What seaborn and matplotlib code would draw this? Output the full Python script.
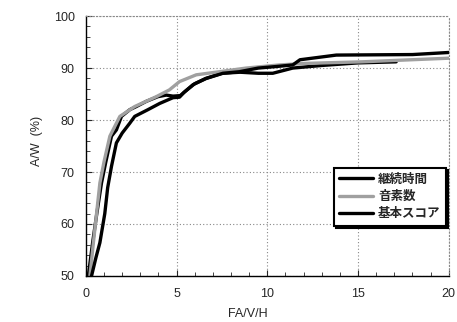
import numpy as np
import pandas as pd
import matplotlib
matplotlib.use('Agg')
import matplotlib.pyplot as plt
from matplotlib.ticker import MultipleLocator
import seaborn as sns

sns.set_style('white')
plt.rcParams['font.family'] = ['Liberation Sans', 'Noto Sans CJK JP', 'DejaVu Sans']

# Series (x = FA/V/H, y = A/W %)
series_names = ['継続時間', '音素数', '基本スコア']

x_keizoku = [0.13, 0.37, 0.6, 0.86, 1.1, 1.41, 1.68, 1.96, 2.42, 2.78, 3.33, 3.97, 4.43,
             4.8, 5.2, 5.5, 6.0, 6.6, 7.5, 8.5, 9.5, 10.3, 11.4, 13.0, 15.0, 17.1]
y_keizoku = [50, 56.4, 62, 67.9, 72, 76.9, 78.1, 80.7, 82.0, 82.6, 83.6, 84.5, 84.8,
             84.6, 84.7, 85.6, 87.0, 88.0, 89.0, 89.2, 89.0, 89.0, 90.0, 90.5, 91.0, 91.2]

x_onso = [0.22, 0.4, 0.77, 1.0, 1.32, 1.87, 2.69, 3.88, 4.6, 5.16, 6.08, 7.36, 8.83,
          10.66, 12.1, 15.2, 20.0]
y_onso = [50, 56, 67.9, 72, 76.9, 80.7, 82.6, 84.5, 85.8, 87.4, 88.7, 89.3, 90.0,
          90.6, 90.9, 91.2, 91.9]

x_kihon = [0.31, 0.55, 0.77, 1.04, 1.2, 1.41, 1.68, 2.0, 2.42, 2.69, 3.42, 4.07, 4.8,
           5.16, 5.4, 5.9, 6.63, 7.55, 8.46, 9.5, 10.5, 11.4, 11.8, 13.8, 18.0, 20.0]
y_kihon = [50, 53.5, 56.4, 62, 67, 71.1, 75.6, 77.5, 79.4, 80.7, 82.0, 83.2, 84.3,
           84.4, 85.3, 86.8, 88.0, 89.0, 89.3, 90.0, 90.3, 90.6, 91.6, 92.5, 92.6, 93.0]

fig = plt.figure(figsize=(4.57, 3.22), dpi=100)
ax = fig.add_axes([0.188, 0.143, 0.794, 0.807])

styles = {'継続時間': dict(color='black', lw=2.4),
          '音素数': dict(color='#a0a0a0', lw=2.4),
          '基本スコア': dict(color='black', lw=2.4)}

for name, xs, ys in zip(series_names, [x_keizoku, x_onso, x_kihon], [y_keizoku, y_onso, y_kihon]):
    sns.lineplot(x=xs, y=ys, ax=ax, sort=False, estimator=None, label=name, **styles[name])

ax.set_xlim(0, 20)
ax.set_ylim(50, 100)
ax.xaxis.set_major_locator(MultipleLocator(5))
ax.xaxis.set_minor_locator(MultipleLocator(1))
ax.yaxis.set_major_locator(MultipleLocator(10))
ax.yaxis.set_minor_locator(MultipleLocator(2))
ax.grid(True, which='major', color='#888888', linestyle=(0, (1, 2)), linewidth=0.8)
ax.tick_params(which='both', direction='in', left=True, bottom=True, labelsize=9)
ax.tick_params(which='major', length=4)
ax.tick_params(which='minor', length=3)
ax.tick_params(axis='x', pad=9)
ax.tick_params(axis='y', pad=8)

for side in ['top', 'right']:
    ax.spines[side].set_color('#888888')
    ax.spines[side].set_linestyle((0, (1, 2)))
    ax.spines[side].set_linewidth(0.8)
for side in ['left', 'bottom']:
    ax.spines[side].set_color('black')
    ax.spines[side].set_linewidth(1.0)

ax.set_xlabel('FA/V/H', fontsize=9)
ax.set_ylabel('A/W  (%)', fontsize=9)
ax.xaxis.set_label_coords(0.445, -0.125)
ax.yaxis.set_label_coords(-0.118, 0.52)

leg = ax.legend(loc='lower right', bbox_to_anchor=(1.01, 0.17), fontsize=9,
                frameon=True, fancybox=False, handlelength=2.7,
                borderpad=0.45, labelspacing=0.4, handletextpad=0.4,
                shadow={'color': 'black', 'alpha': 1, 'ox': 1.5, 'oy': -1.5})
leg.get_frame().set_edgecolor('black')
leg.get_frame().set_linewidth(1.5)
for t in leg.get_texts():
    t.set_fontweight('bold')

fig.savefig('out.png', dpi=100)
